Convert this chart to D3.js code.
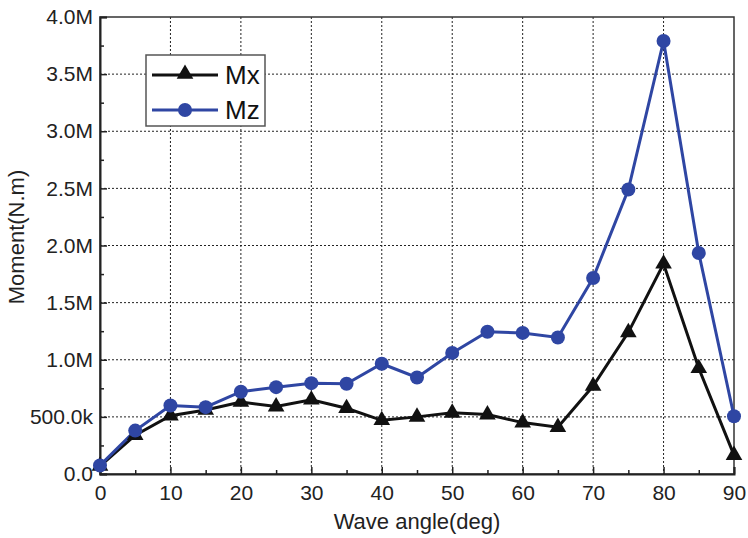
<!DOCTYPE html>
<html>
<head>
<meta charset="utf-8">
<script src="https://cdn.jsdelivr.net/npm/d3@7"></script>
<style>
  body { margin: 0; background: #fff; }
  text { font-family: "Liberation Sans", Arial, sans-serif; }
</style>
</head>
<body>
<div id="vis"></div>
<script>
const FRAME_WIDTH = 748;
const FRAME_HEIGHT = 538;
const MARGINS = {left: 100, right: 14, top: 17, bottom: 64};
const VIS_WIDTH = FRAME_WIDTH - MARGINS.left - MARGINS.right;
const VIS_HEIGHT = FRAME_HEIGHT - MARGINS.top - MARGINS.bottom;

// data
const angles = [0, 5, 10, 15, 20, 25, 30, 35, 40, 45, 50, 55, 60, 65, 70, 75, 80, 85, 90];
const mx = [0.07, 0.34, 0.51, 0.56, 0.63, 0.59, 0.65, 0.575, 0.47, 0.50, 0.535, 0.52, 0.45, 0.41, 0.77, 1.24, 1.84, 0.925, 0.165];
const mz = [0.075, 0.38, 0.60, 0.585, 0.72, 0.76, 0.795, 0.79, 0.965, 0.845, 1.06, 1.245, 1.235, 1.195, 1.715, 2.49, 3.79, 1.935, 0.505];
const xTicks = [0, 10, 20, 30, 40, 50, 60, 70, 80, 90];
const yTicks = [0, 0.5, 1.0, 1.5, 2.0, 2.5, 3.0, 3.5, 4.0];
const yTickLabels = ["0.0", "500.0k", "1.0M", "1.5M", "2.0M", "2.5M", "3.0M", "3.5M", "4.0M"];

const BLUE = "#2f46a3";
const TICK_FONT = 21;
const TITLE_FONT = 22;

const svg = d3.select("#vis").append("svg")
  .attr("width", FRAME_WIDTH)
  .attr("height", FRAME_HEIGHT);

const g = svg.append("g")
  .attr("transform", `translate(${MARGINS.left},${MARGINS.top})`);

const X = d3.scaleLinear().domain([0, 90]).range([0, VIS_WIDTH]);
const Y = d3.scaleLinear().domain([0, 4]).range([VIS_HEIGHT, 0]);

// grid
g.selectAll(".gx").data(xTicks.slice(1, -1)).enter().append("line")
  .attr("x1", d => X(d)).attr("x2", d => X(d))
  .attr("y1", 0).attr("y2", VIS_HEIGHT)
  .attr("stroke", "#222").attr("stroke-width", 1).attr("stroke-dasharray", "2,2");
g.selectAll(".gy").data(yTicks.slice(1, -1)).enter().append("line")
  .attr("y1", d => Y(d)).attr("y2", d => Y(d))
  .attr("x1", 0).attr("x2", VIS_WIDTH)
  .attr("stroke", "#222").attr("stroke-width", 1).attr("stroke-dasharray", "2,2");

// frame
g.append("rect")
  .attr("width", VIS_WIDTH).attr("height", VIS_HEIGHT)
  .attr("fill", "none").attr("stroke", "#333").attr("stroke-width", 1.5);

// axes (ticks inward)
const xAxis = d3.axisBottom(X).tickValues(d3.range(0, 91, 5))
  .tickSize(-7).tickFormat(d => d % 10 === 0 ? d : "");
const gx = g.append("g").attr("transform", `translate(0,${VIS_HEIGHT})`).call(xAxis);
gx.selectAll(".tick line").attr("y2", d => d % 10 === 0 ? -7 : -4).attr("stroke", "#222").attr("stroke-width", 1.5);
gx.select(".domain").attr("stroke", "#222").attr("stroke-width", 2);
gx.selectAll("text").attr("y", 11).attr("dy", "0.71em").attr("font-size", TICK_FONT).attr("fill", "#222")
  .style("font-family", "Liberation Sans, Arial, sans-serif");

const yAxis = d3.axisLeft(Y).tickValues(d3.range(0, 4.01, 0.25))
  .tickSize(-7).tickFormat(d => {
    const i = yTicks.findIndex(t => Math.abs(t - d) < 1e-6);
    return i >= 0 ? yTickLabels[i] : "";
  });
const gy = g.append("g").call(yAxis);
gy.selectAll(".tick line").attr("x2", d => Math.abs(d * 2 - Math.round(d * 2)) < 1e-6 ? 7 : 4).attr("stroke", "#222").attr("stroke-width", 1.5);
gy.select(".domain").attr("stroke", "#222").attr("stroke-width", 2);
gy.selectAll("text").attr("x", -7).attr("font-size", TICK_FONT).attr("fill", "#222")
  .style("font-family", "Liberation Sans, Arial, sans-serif");

// axis titles
svg.append("text")
  .attr("x", MARGINS.left + VIS_WIDTH / 2).attr("y", 529)
  .attr("text-anchor", "middle").attr("font-size", TITLE_FONT).attr("fill", "#222")
  .text("Wave angle(deg)");
svg.append("text")
  .attr("transform", "translate(24,237) rotate(-90)")
  .attr("text-anchor", "middle").attr("font-size", TITLE_FONT).attr("fill", "#222")
  .text("Moment(N.m)");

// lines
const line = d3.line().x((d, i) => X(angles[i])).y(d => Y(d));
const tri = d3.symbol().type(d3.symbolTriangle).size(120);

g.append("path").datum(mx).attr("d", line)
  .attr("fill", "none").attr("stroke", "#111").attr("stroke-width", 3);
g.append("path").datum(mz).attr("d", line)
  .attr("fill", "none").attr("stroke", BLUE).attr("stroke-width", 3);

g.selectAll(".mx").data(mx).enter().append("path")
  .attr("d", tri)
  .attr("transform", (d, i) => `translate(${X(angles[i])},${Y(d)})`)
  .attr("fill", "#111");
g.selectAll(".mz").data(mz).enter().append("circle")
  .attr("cx", (d, i) => X(angles[i])).attr("cy", d => Y(d))
  .attr("r", 7).attr("fill", BLUE);

// legend
const lg = svg.append("g");
lg.append("rect").attr("x", 146).attr("y", 55).attr("width", 119).attr("height", 71)
  .attr("fill", "#fff").attr("stroke", "#555").attr("stroke-width", 1.5);
const legendItems = [{name: "Mx", color: "#111", y: 75, sym: "tri"}, {name: "Mz", color: BLUE, y: 110, sym: "circle"}];
legendItems.forEach(it => {
  lg.append("line").attr("x1", 152).attr("x2", 218).attr("y1", it.y).attr("y2", it.y)
    .attr("stroke", it.color).attr("stroke-width", 3);
  if (it.sym === "tri") {
    lg.append("path").attr("d", tri).attr("transform", `translate(185,${it.y - 1})`).attr("fill", it.color);
  } else {
    lg.append("circle").attr("cx", 185).attr("cy", it.y).attr("r", 7).attr("fill", it.color);
  }
  lg.append("text").attr("x", 225).attr("y", it.y + 9).attr("font-size", 26).attr("fill", "#111").text(it.name);
});
</script>
</body>
</html>
